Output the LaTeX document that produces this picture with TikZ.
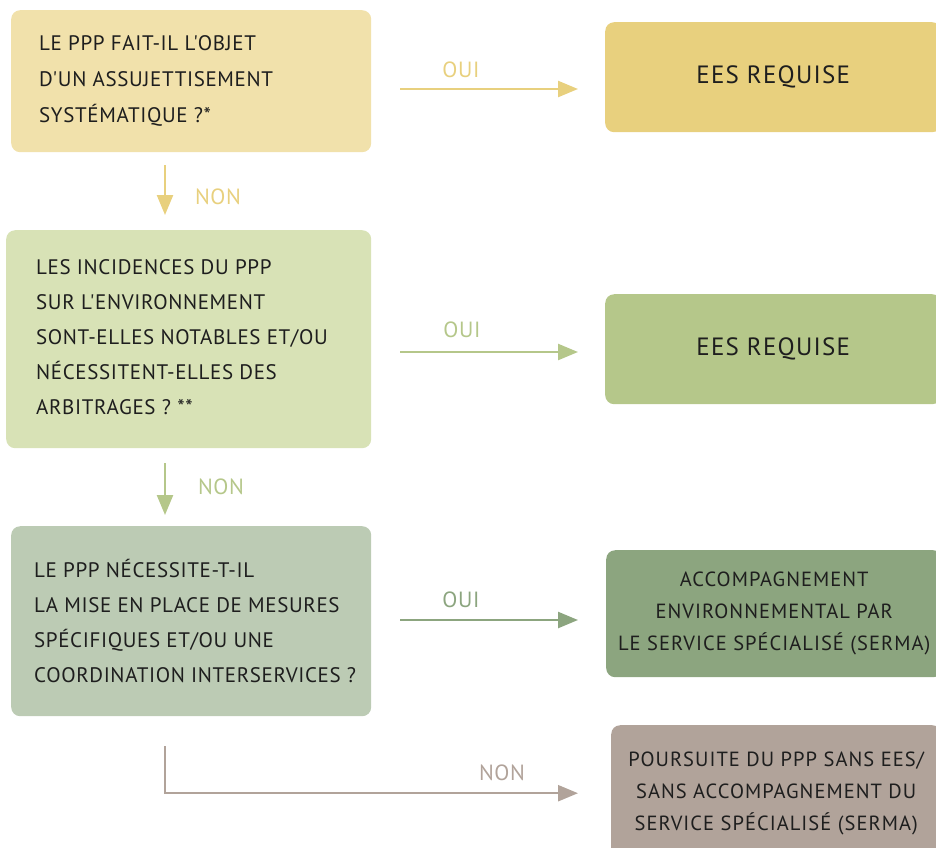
\documentclass[tikz,border=0pt]{standalone}
\usepackage{fontspec}
\setmainfont{PT Sans}
\newfontfamily\handfont[LetterSpace=3]{PT Sans}
\newfontfamily\handwide[LetterSpace=5]{PT Sans}
\usetikzlibrary{arrows.meta}

\definecolor{ink}{HTML}{1E1E1E}
\definecolor{qone}{HTML}{F1E1AB}
\definecolor{rone}{HTML}{E8D07E}
\definecolor{qtwo}{HTML}{D8E2B6}
\definecolor{rtwo}{HTML}{B5C78A}
\definecolor{qthree}{HTML}{BCCBB4}
\definecolor{rthree}{HTML}{8CA57F}
\definecolor{rfour}{HTML}{B1A39A}

\begin{document}
\begin{tikzpicture}[x=1pt,y=-1pt,
  box/.style={rounded corners=9pt, inner sep=0pt, anchor=north west},
  qtext/.style={anchor=west, align=left, inner sep=0pt, text=ink},
  rtext/.style={align=center, text=ink, font=\handwide\fontsize{20.5}{32}\selectfont},
  flow/.style={line width=2.4pt, -{Triangle[length=20pt,width=16pt]}},
  lbl/.style={font=\handfont\fontsize{22}{22}\selectfont, inner sep=0pt}]
\useasboundingbox (0,0) rectangle (936,847);
\clip (0,0) rectangle (936,847);

% question boxes
\node[box, fill=qone, minimum width=360pt, minimum height=142pt] (q1) at (11,10) {};
\node[qtext, font=\handfont\fontsize{21}{36}\selectfont] (q1t) at (39,81)
  {LE PPP FAIT-IL L'OBJET\\D'UN ASSUJETTISEMENT\\SYSTÉMATIQUE ?*};

\node[box, fill=qtwo, minimum width=365pt, minimum height=218pt] (q2) at (6,230) {};
\node[qtext, font=\handfont\fontsize{21}{35}\selectfont] (q2t) at (36,337)
  {LES INCIDENCES DU PPP\\SUR L'ENVIRONNEMENT\\SONT-ELLES NOTABLES ET/OU\\NÉCESSITENT-ELLES DES\\ARBITRAGES ? **};

\node[box, fill=qthree, minimum width=360pt, minimum height=190pt] (q3) at (11,526) {};
\node[qtext, font=\handfont\fontsize{21}{35}\selectfont] (q3t) at (34,621)
  {LE PPP NÉCESSITE-T-IL\\LA MISE EN PLACE DE MESURES\\SPÉCIFIQUES ET/OU UNE\\COORDINATION INTERSERVICES ?};

% outcome boxes
\node[box, fill=rone, minimum width=336pt, minimum height=110pt, rtext, font=\handwide\fontsize{25}{25}\selectfont] (r1) at (605,22) {EES REQUISE};
\node[box, fill=rtwo, minimum width=336pt, minimum height=110pt, rtext, font=\handwide\fontsize{25}{25}\selectfont] (r2) at (605,294) {EES REQUISE};
\node[box, fill=rthree, minimum width=336pt, minimum height=127pt, rtext] (r3) at (606,550)
  {ACCOMPAGNEMENT\\ENVIRONNEMENTAL PAR\\LE SERVICE SPÉCIALISÉ (SERMA)};
\node[box, fill=rfour, minimum width=330pt, minimum height=136pt, rtext] (r4) at (611,725)
  {POURSUITE DU PPP SANS EES/\\SANS ACCOMPAGNEMENT DU\\SERVICE SPÉCIALISÉ (SERMA)};

% yes branches
\coordinate (y1) at (400,89);
\draw[flow, draw=rone, shorten >=27pt] (y1) -- (y1 -| r1.west);
\node[lbl, text=rone] (o1) at (461,70) {OUI};

\coordinate (y2) at (400,352);
\draw[flow, draw=rtwo, shorten >=27pt] (y2) -- (y2 -| r2.west);
\node[lbl, text=rtwo] (o2) at (462,330) {OUI};

\coordinate (y3) at (400,620);
\draw[flow, draw=rthree, shorten >=28pt] (y3) -- (y3 -| r3.west);
\node[lbl, text=rthree] (o3) at (461,600) {OUI};

% no branches
\coordinate (n1) at (165,165);
\draw[flow, draw=rone, shorten >=15pt] (n1) -- (n1 |- q2.north);
\node[lbl, text=rone] (x1) at (218,197) {NON};

\coordinate (n2) at (165,463);
\draw[flow, draw=rtwo, shorten >=11pt] (n2) -- (n2 |- q3.north);
\node[lbl, text=rtwo] (x2) at (221,487) {NON};

\coordinate (n3) at (165,746);
\draw[flow, draw=rfour, shorten >=33pt] (n3) |- (r4.west);
\node[lbl, text=rfour] (x3) at (502,773) {NON};
\end{tikzpicture}
\end{document}
